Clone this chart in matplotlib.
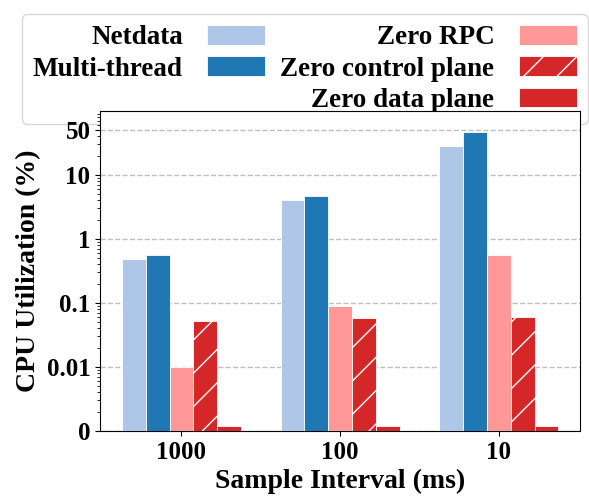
import matplotlib
matplotlib.use("Agg")
import matplotlib.pyplot as plt
import numpy as np
from matplotlib.ticker import FixedLocator, LogLocator, NullFormatter

plt.rcParams['font.family'] = ['Liberation Serif', 'DejaVu Serif']
plt.rcParams['font.weight'] = 'bold'
plt.rcParams['axes.labelweight'] = 'bold'
plt.rcParams['hatch.linewidth'] = 1.0

intervals = ["1000", "100", "10"]
netdata = [0.48, 4.1, 28]
multi_thread = [0.56, 4.7, 46]
zero_rpc = [0.0100, 0.088, 0.56]
zero_control = [0.053, 0.059, 0.061]
zero_data = [0.0012, 0.0012, 0.0012]

series = [
    ("Netdata", netdata, "#aec7e8", None),
    ("Multi-thread", multi_thread, "#1f77b4", None),
    ("Zero RPC", zero_rpc, "#ff9896", None),
    ("Zero control plane", zero_control, "#d62728", "/"),
    ("Zero data plane", zero_data, "#d62728", None),
]

fig = plt.figure(figsize=(5.89, 5.04), dpi=100)
ax = fig.add_axes([0.170, 0.145, 0.815, 0.635])

x = np.arange(len(intervals))
w = 0.15
bars = []
for i, (name, vals, color, hatch) in enumerate(series):
    b = ax.bar(x + (i - 2) * w, vals, w, color=color, edgecolor="white",
               linewidth=0.6, hatch=hatch, label=name, zorder=3)
    bars.append(b)

ax.set_yscale("log")
ax.set_ylim(0.001, 100)
ax.yaxis.set_major_locator(FixedLocator([0.001, 0.01, 0.1, 1, 10, 50]))
ax.set_yticklabels(["0", "0.01", "0.1", "1", "10", "50"])
ax.yaxis.set_minor_locator(LogLocator(base=10, subs=np.arange(2, 10)))
ax.yaxis.set_minor_formatter(NullFormatter())
ax.set_xticks(x)
ax.set_xticklabels(intervals)
ax.tick_params(axis="both", labelsize=18)
ax.grid(axis="y", linestyle="--", color="gray", alpha=0.5, linewidth=1, zorder=0)
ax.set_axisbelow(True)
ax.set_xlabel("Sample Interval (ms)", fontsize=20)
ax.set_ylabel("CPU Utilization (%)", fontsize=20)

# blank entry so the first column holds only two items
handles = bars[:2] + [plt.Rectangle((0, 0), 0, 0, visible=False)] + bars[2:]
labels = ["Netdata", "Multi-thread", ""] + [s[0] for s in series[2:]]
leg = fig.legend(handles, labels, ncol=2, loc="upper right",
                 bbox_to_anchor=(0.998, 0.972), borderaxespad=0,
                 markerfirst=False, fontsize=19.5, labelspacing=0.22,
                 columnspacing=0.55, handlelength=2.15, handleheight=0.75,
                 handletextpad=0.9, borderpad=0.4)
leg.set_zorder(-1)

fig.savefig("out.png", dpi=100)
